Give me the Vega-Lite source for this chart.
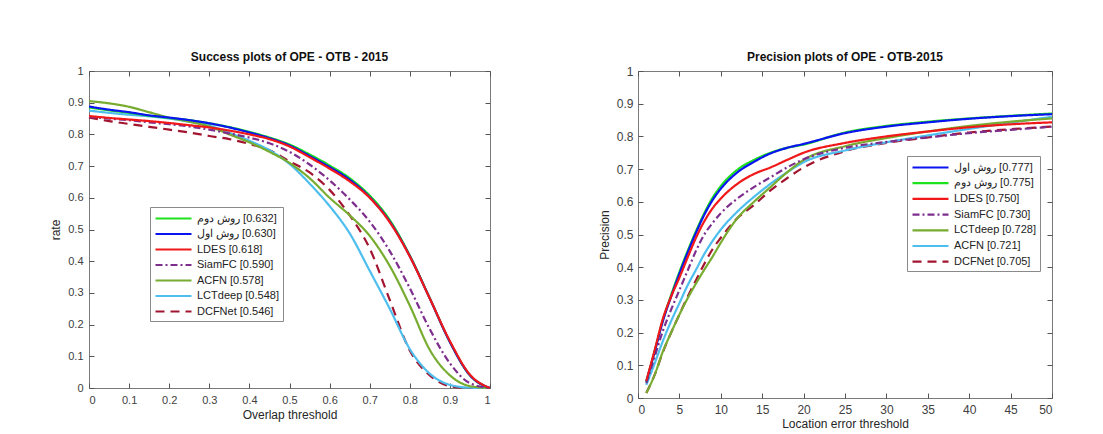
{
  "$schema": "https://vega.github.io/schema/vega-lite/v6.json",
  "background": "white",
  "padding": {"left": 49, "top": 50, "right": 0, "bottom": 0},
  "spacing": 102,
  "config": {
    "font": "Liberation Sans",
    "view": {"stroke": "#7a7a7a", "strokeWidth": 1},
    "axis": {
      "domain": false,
      "grid": false,
      "tickSize": -5,
      "tickColor": "#555555",
      "labelFont": "Liberation Sans",
      "labelColor": "#404040",
      "titleFont": "Liberation Sans",
      "titleFontWeight": "normal",
      "titleColor": "#262626",
      "titleFontSize": 12
    },
    "title": {"font": "Liberation Sans", "fontSize": 12, "fontWeight": "bold", "color": "#111111", "offset": 1}
  },
  "datasets": {
    "succ": [
      {"x":0,"g":0.885,"b":0.888,"r":0.858,"s":0.855,"a":0.905,"l":0.875,"d":0.853},
      {"x":0.05,"g":0.876,"b":0.878,"r":0.852,"s":0.85,"a":0.898,"l":0.868,"d":0.842},
      {"x":0.1,"g":0.868,"b":0.87,"r":0.847,"s":0.845,"a":0.887,"l":0.862,"d":0.833},
      {"x":0.15,"g":0.859,"b":0.86,"r":0.842,"s":0.838,"a":0.87,"l":0.857,"d":0.824},
      {"x":0.2,"g":0.852,"b":0.853,"r":0.836,"s":0.832,"a":0.853,"l":0.85,"d":0.815},
      {"x":0.25,"g":0.845,"b":0.845,"r":0.829,"s":0.825,"a":0.84,"l":0.84,"d":0.806},
      {"x":0.3,"g":0.835,"b":0.835,"r":0.822,"s":0.815,"a":0.825,"l":0.828,"d":0.795},
      {"x":0.35,"g":0.823,"b":0.822,"r":0.812,"s":0.803,"a":0.8,"l":0.805,"d":0.785},
      {"x":0.4,"g":0.808,"b":0.806,"r":0.8,"s":0.79,"a":0.775,"l":0.78,"d":0.77},
      {"x":0.45,"g":0.79,"b":0.788,"r":0.785,"s":0.772,"a":0.745,"l":0.75,"d":0.75},
      {"x":0.5,"g":0.768,"b":0.765,"r":0.762,"s":0.745,"a":0.71,"l":0.707,"d":0.715},
      {"x":0.55,"g":0.737,"b":0.732,"r":0.728,"s":0.705,"a":0.662,"l":0.645,"d":0.68},
      {"x":0.6,"g":0.702,"b":0.697,"r":0.692,"s":0.655,"a":0.6,"l":0.574,"d":0.625},
      {"x":0.65,"g":0.662,"b":0.657,"r":0.652,"s":0.595,"a":0.545,"l":0.488,"d":0.545},
      {"x":0.7,"g":0.607,"b":0.602,"r":0.6,"s":0.525,"a":0.48,"l":0.37,"d":0.44},
      {"x":0.75,"g":0.53,"b":0.525,"r":0.523,"s":0.432,"a":0.385,"l":0.25,"d":0.278},
      {"x":0.8,"g":0.418,"b":0.416,"r":0.415,"s":0.315,"a":0.26,"l":0.123,"d":0.118},
      {"x":0.85,"g":0.283,"b":0.282,"r":0.282,"s":0.185,"a":0.12,"l":0.045,"d":0.04},
      {"x":0.9,"g":0.145,"b":0.145,"r":0.148,"s":0.078,"a":0.04,"l":0.01,"d":0.006},
      {"x":0.95,"g":0.04,"b":0.04,"r":0.042,"s":0.015,"a":0.006,"l":0.001,"d":0},
      {"x":1,"g":0,"b":0,"r":0,"s":0,"a":0,"l":0,"d":0}
    ],
    "succLegend": [
      {"k":"g","label":"روش دوم\u200e [0.632]"},
      {"k":"b","label":"روش اول\u200e [0.630]"},
      {"k":"r","label":"LDES [0.618]"},
      {"k":"s","label":"SiamFC [0.590]"},
      {"k":"a","label":"ACFN [0.578]"},
      {"k":"l","label":"LCTdeep [0.548]"},
      {"k":"d","label":"DCFNet [0.546]"}
    ],
    "prec": [
      {"x":1,"b":0.05,"g":0.05,"r":0.052,"s":0.045,"l":0.015,"a":0.04,"d":0.015},
      {"x":2,"b":0.14,"g":0.142,"r":0.145,"s":0.125,"l":0.07,"a":0.105,"d":0.07},
      {"x":3,"b":0.235,"g":0.238,"r":0.242,"s":0.205,"l":0.142,"a":0.174,"d":0.14},
      {"x":4,"b":0.31,"g":0.315,"r":0.31,"s":0.27,"l":0.2,"a":0.235,"d":0.2},
      {"x":5,"b":0.38,"g":0.385,"r":0.368,"s":0.33,"l":0.255,"a":0.29,"d":0.255},
      {"x":6,"b":0.445,"g":0.45,"r":0.43,"s":0.39,"l":0.305,"a":0.345,"d":0.31},
      {"x":7,"b":0.505,"g":0.51,"r":0.49,"s":0.45,"l":0.35,"a":0.392,"d":0.36},
      {"x":8,"b":0.56,"g":0.565,"r":0.54,"s":0.5,"l":0.392,"a":0.44,"d":0.41},
      {"x":9,"b":0.605,"g":0.612,"r":0.58,"s":0.535,"l":0.432,"a":0.48,"d":0.455},
      {"x":10,"b":0.64,"g":0.648,"r":0.61,"s":0.565,"l":0.475,"a":0.515,"d":0.49},
      {"x":12,"b":0.69,"g":0.698,"r":0.655,"s":0.61,"l":0.55,"a":0.57,"d":0.55},
      {"x":14,"b":0.722,"g":0.728,"r":0.685,"s":0.645,"l":0.6,"a":0.615,"d":0.59},
      {"x":16,"b":0.748,"g":0.75,"r":0.705,"s":0.675,"l":0.645,"a":0.655,"d":0.635},
      {"x":18,"b":0.765,"g":0.765,"r":0.728,"s":0.705,"l":0.69,"a":0.69,"d":0.672},
      {"x":20,"b":0.777,"g":0.775,"r":0.75,"s":0.73,"l":0.728,"a":0.721,"d":0.705},
      {"x":25,"b":0.81,"g":0.812,"r":0.78,"s":0.765,"l":0.77,"a":0.757,"d":0.755},
      {"x":30,"b":0.83,"g":0.832,"r":0.8,"s":0.783,"l":0.795,"a":0.782,"d":0.78},
      {"x":35,"b":0.843,"g":0.845,"r":0.815,"s":0.797,"l":0.815,"a":0.803,"d":0.797},
      {"x":40,"b":0.854,"g":0.855,"r":0.828,"s":0.81,"l":0.832,"a":0.823,"d":0.812},
      {"x":45,"b":0.862,"g":0.863,"r":0.837,"s":0.82,"l":0.845,"a":0.842,"d":0.822},
      {"x":50,"b":0.868,"g":0.87,"r":0.843,"s":0.83,"l":0.855,"a":0.86,"d":0.83}
    ],
    "precLegend": [
      {"k":"b","label":"روش اول\u200e [0.777]"},
      {"k":"g","label":"روش دوم\u200e [0.775]"},
      {"k":"r","label":"LDES [0.750]"},
      {"k":"s","label":"SiamFC [0.730]"},
      {"k":"l","label":"LCTdeep [0.728]"},
      {"k":"a","label":"ACFN [0.721]"},
      {"k":"d","label":"DCFNet [0.705]"}
    ]
  },
  "hconcat": [
    {
      "width": 401,
      "height": 317,
      "title": {"text": "Success plots of OPE - OTB - 2015"},
      "data": {"name": "succ"},
      "transform": [
        {"fold": ["d", "l", "a", "s", "g", "b", "r"], "as": ["k", "y"]},
        {"lookup": "k", "from": {"data": {"name": "succLegend"}, "key": "k", "fields": ["label"]}}
      ],
      "layer": [
        {
          "mark": {"type": "line", "strokeWidth": 2.2, "interpolate": "monotone"},
          "encoding": {
            "x": {"field": "x", "type": "quantitative", "scale": {"domain": [0, 1], "nice": false},
              "axis": {"values": [0,0.1,0.2,0.3,0.4,0.5,0.6,0.7,0.8,0.9,1], "format": "~g", "title": "Overlap threshold", "labelFontSize": 11, "labelPadding": 11, "titlePadding": 4}},
            "y": {"field": "y", "type": "quantitative", "scale": {"domain": [0, 1], "nice": false},
              "axis": {"values": [0,0.1,0.2,0.3,0.4,0.5,0.6,0.7,0.8,0.9,1], "format": "~g", "title": "rate", "labelFontSize": 11, "labelPadding": 11, "titlePadding": 5}},
            "color": {"field": "label", "type": "nominal",
              "scale": {"domain": ["روش دوم\u200e [0.632]", "روش اول\u200e [0.630]", "LDES [0.618]", "SiamFC [0.590]", "ACFN [0.578]", "LCTdeep [0.548]", "DCFNet [0.546]"],
                "range": ["#1de21d", "#0a14f0", "#f01818", "#7e2f8e", "#77ac30", "#4dbeee", "#a2142f"]},
              "legend": {"title": null, "orient": "none", "legendX": 61, "legendY": 136, "symbolType": "M-3,0H3", "symbolSize": 144, "symbolStrokeWidth": 2.2, "labelFontSize": 11, "labelFont": "Liberation Sans", "labelColor": "#222222", "labelLimit": 300, "strokeColor": "#8a8a8a", "fillColor": "white", "padding": 4, "rowPadding": 2.5, "symbolOffset": 12, "labelOffset": 16}},
            "strokeDash": {"field": "label", "type": "nominal",
              "scale": {"domain": ["روش دوم\u200e [0.632]", "روش اول\u200e [0.630]", "LDES [0.618]", "SiamFC [0.590]", "ACFN [0.578]", "LCTdeep [0.548]", "DCFNet [0.546]"],
                "range": [[1, 0], [1, 0], [1, 0], [7, 3, 2, 3], [1, 0], [1, 0], [9, 6]]},
              "legend": {"title": null, "orient": "none", "legendX": 61, "legendY": 136, "symbolType": "M-3,0H3", "symbolSize": 144, "symbolStrokeWidth": 2.2, "labelFontSize": 11, "labelFont": "Liberation Sans", "labelColor": "#222222", "labelLimit": 300, "strokeColor": "#8a8a8a", "fillColor": "white", "padding": 4, "rowPadding": 2.5, "symbolOffset": 12, "labelOffset": 16}}
          }
        },
        {
          "mark": {"type": "point", "opacity": 0},
          "encoding": {
            "x": {"field": "x", "type": "quantitative", "scale": {"domain": [0, 1], "nice": false},
              "axis": {"orient": "top", "values": [0,0.1,0.2,0.3,0.4,0.5,0.6,0.7,0.8,0.9,1], "labels": false, "title": null}},
            "y": {"field": "y", "type": "quantitative", "scale": {"domain": [0, 1], "nice": false},
              "axis": {"orient": "right", "values": [0,0.1,0.2,0.3,0.4,0.5,0.6,0.7,0.8,0.9,1], "labels": false, "title": null}}
          }
        }
      ],
      "resolve": {"scale": {"x": "independent", "y": "independent"}}
    },
    {
      "width": 414,
      "height": 327,
      "title": {"text": "Precision plots of OPE - OTB-2015"},
      "data": {"name": "prec"},
      "transform": [
        {"fold": ["d", "a", "l", "s", "g", "b", "r"], "as": ["k", "y"]},
        {"lookup": "k", "from": {"data": {"name": "precLegend"}, "key": "k", "fields": ["label"]}}
      ],
      "layer": [
        {
          "mark": {"type": "line", "strokeWidth": 2.2, "interpolate": "monotone"},
          "encoding": {
            "x": {"field": "x", "type": "quantitative", "scale": {"domain": [0, 50], "nice": false},
              "axis": {"values": [0,5,10,15,20,25,30,35,40,45,50], "title": "Location error threshold", "labelFontSize": 12, "labelPadding": 11, "titlePadding": 3}},
            "y": {"field": "y", "type": "quantitative", "scale": {"domain": [0, 1], "nice": false},
              "axis": {"values": [0,0.1,0.2,0.3,0.4,0.5,0.6,0.7,0.8,0.9,1], "format": "~g", "title": "Precision", "labelFontSize": 12, "labelPadding": 10, "titlePadding": 5}},
            "color": {"field": "label", "type": "nominal",
              "scale": {"domain": ["روش اول\u200e [0.777]", "روش دوم\u200e [0.775]", "LDES [0.750]", "SiamFC [0.730]", "LCTdeep [0.728]", "ACFN [0.721]", "DCFNet [0.705]"],
                "range": ["#0a14f0", "#1de21d", "#f01818", "#7e2f8e", "#77ac30", "#4dbeee", "#a2142f"]},
              "legend": {"title": null, "orient": "none", "legendX": 269, "legendY": 85, "symbolType": "M-3,0H3", "symbolSize": 144, "symbolStrokeWidth": 2.2, "labelFontSize": 11, "labelFont": "Liberation Sans", "labelColor": "#222222", "labelLimit": 300, "strokeColor": "#8a8a8a", "fillColor": "white", "padding": 4, "rowPadding": 2.7, "symbolOffset": 12, "labelOffset": 16}},
            "strokeDash": {"field": "label", "type": "nominal",
              "scale": {"domain": ["روش اول\u200e [0.777]", "روش دوم\u200e [0.775]", "LDES [0.750]", "SiamFC [0.730]", "LCTdeep [0.728]", "ACFN [0.721]", "DCFNet [0.705]"],
                "range": [[1, 0], [1, 0], [1, 0], [7, 3, 2, 3], [1, 0], [1, 0], [9, 6]]},
              "legend": {"title": null, "orient": "none", "legendX": 269, "legendY": 85, "symbolType": "M-3,0H3", "symbolSize": 144, "symbolStrokeWidth": 2.2, "labelFontSize": 11, "labelFont": "Liberation Sans", "labelColor": "#222222", "labelLimit": 300, "strokeColor": "#8a8a8a", "fillColor": "white", "padding": 4, "rowPadding": 2.7, "symbolOffset": 12, "labelOffset": 16}}
          }
        },
        {
          "mark": {"type": "point", "opacity": 0},
          "encoding": {
            "x": {"field": "x", "type": "quantitative", "scale": {"domain": [0, 50], "nice": false},
              "axis": {"orient": "top", "values": [0,5,10,15,20,25,30,35,40,45,50], "labels": false, "title": null}},
            "y": {"field": "y", "type": "quantitative", "scale": {"domain": [0, 1], "nice": false},
              "axis": {"orient": "right", "values": [0,0.1,0.2,0.3,0.4,0.5,0.6,0.7,0.8,0.9,1], "labels": false, "title": null}}
          }
        }
      ],
      "resolve": {"scale": {"x": "independent", "y": "independent"}}
    }
  ],
  "resolve": {"scale": {"color": "independent", "strokeDash": "independent"}}
}
